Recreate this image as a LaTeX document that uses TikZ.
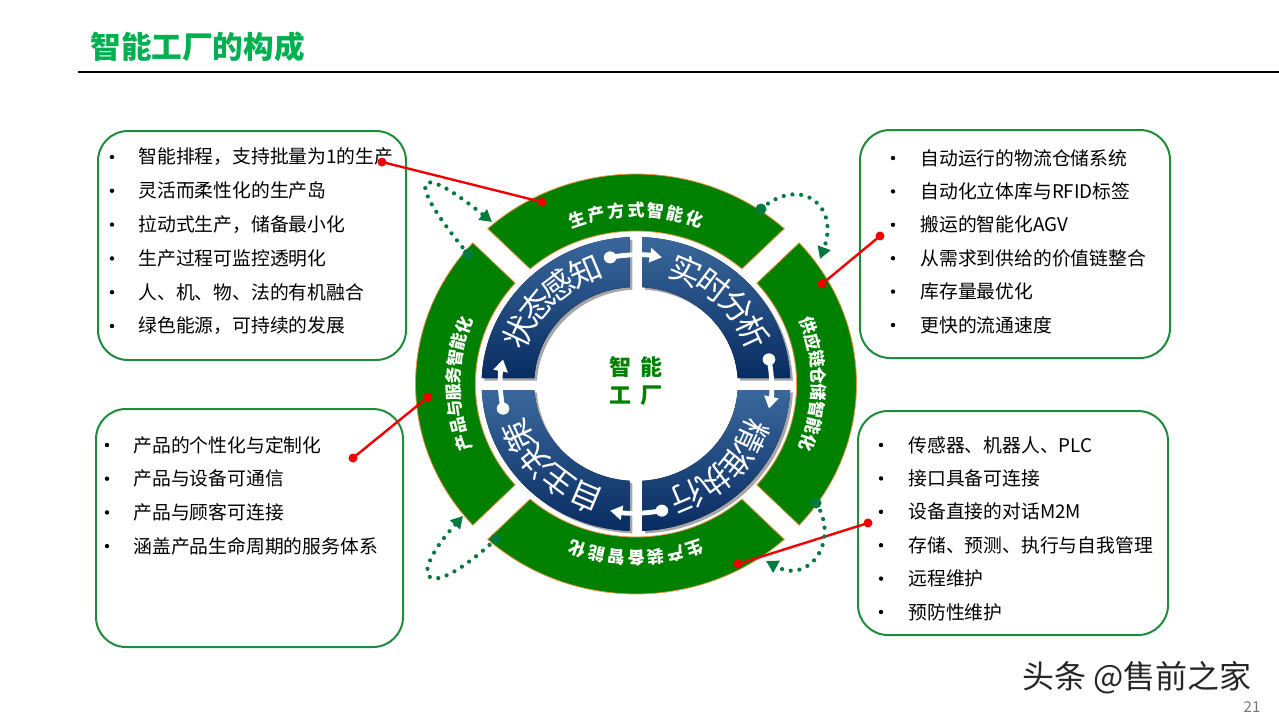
\documentclass[tikz,border=0pt]{standalone}
\usepackage{fontspec}
\setmainfont{Noto Sans CJK SC}
\usetikzlibrary{arrows.meta,positioning}
\definecolor{titlegreen}{RGB}{0,176,80}
\definecolor{ringgreen}{RGB}{0,128,0}
\definecolor{ringedge}{RGB}{236,150,70}
\definecolor{boxgreen}{RGB}{30,140,60}
\definecolor{dotgreen}{RGB}{0,122,61}
\definecolor{linkred}{RGB}{240,0,0}
\definecolor{quadlight}{RGB}{58,104,156}
\definecolor{quaddark}{RGB}{8,44,98}
\definecolor{pagegrey}{RGB}{120,120,120}

\tikzset{
  infobox/.style={draw=boxgreen, line width=1pt, rounded corners=15pt},
  itemtext/.style={anchor=west, font=\fontsize{9.4}{11}\selectfont, inner sep=0pt},
  ringtext/.style={text=white, font=\fontsize{8.5}{9}\selectfont\bfseries, inner sep=0pt},
  quadtext/.style={text=white, font=\fontsize{16}{17}\selectfont, inner sep=0pt},
  redlink/.style={linkred, line width=1.2pt},
  loopflow/.style={dotgreen, line width=2.1pt, line cap=round, dash pattern=on 0pt off 4.4pt,
    -{Triangle[length=6pt,width=6.5pt]}},
  turnflow/.style={white, line width=2.4pt, -{Triangle[length=6pt,width=7pt]}},
}

\begin{document}
\begin{tikzpicture}[x=0.5pt, y=0.5pt]
  \useasboundingbox (0,0) rectangle (1279,720);

  % ---------- title ----------
  \node[anchor=west, inner sep=0pt, text=titlegreen, font=\fontsize{15.3}{16}\selectfont\bfseries] (title) at (90,673) {智能工厂的构成};
  \draw[line width=0.75pt] (78,648) -- (1279,648);

  % ---------- text boxes ----------
  \node[infobox, minimum width=154pt, minimum height=114.5pt] (box1) at (252,474.5) {};
  \node[infobox, minimum width=155pt, minimum height=114pt] (box2) at (1015,476) {};
  \node[infobox, minimum width=153.5pt, minimum height=119pt] (box3) at (249.5,192) {};
  \node[infobox, minimum width=155pt, minimum height=112pt] (box4) at (1013,197) {};

  \foreach \t [count=\i] in {智能排程，支持批量为1的生产, 灵活而柔性化的生产岛, 拉动式生产，储备最小化,
      生产过程可监控透明化, 人、机、物、法的有机融合, 绿色能源，可持续的发展} {
    \fill (112,{563-33.8*(\i-1)}) circle (2.2);
    \node[itemtext] (a\i) at (138,{563-33.8*(\i-1)}) {\t};
  }
  \foreach \t [count=\i] in {自动运行的物流仓储系统, 自动化立体库与RFID标签, 搬运的智能化AGV,
      从需求到供给的价值链整合, 库存量最优化, 更快的流通速度} {
    \fill (893,{562-33.4*(\i-1)}) circle (2.2);
    \node[itemtext] (b\i) at (920,{562-33.4*(\i-1)}) {\t};
  }
  \foreach \t [count=\i] in {产品的个性化与定制化, 产品与设备可通信, 产品与顾客可连接,
      涵盖产品生命周期的服务体系} {
    \fill (107,{275-33.7*(\i-1)}) circle (2.2);
    \node[itemtext] (c\i) at (133,{275-33.7*(\i-1)}) {\t};
  }
  \foreach \t [count=\i] in {传感器、机器人、PLC, 接口具备可连接, 设备直接的对话M2M,
      存储、预测、执行与自我管理, 远程维护, 预防性维护} {
    \fill (881,{275-33.4*(\i-1)}) circle (2.2);
    \node[itemtext] (d\i) at (908,{275-33.4*(\i-1)}) {\t};
  }

  % ---------- ring ----------
  \begin{scope}[shift={(636,336)}, xscale=1.05]
    % green outer segments
    \foreach \a in {90,0,-90,180}
      \fill[ringgreen, draw=ringedge, line width=0.4pt]
        (\a-42.27:210) arc[start angle=\a-42.27, end angle=\a+42.27, radius=210]
        -- (\a+41.25:153) arc[start angle=\a+41.25, end angle=\a-41.25, radius=153] -- cycle;
    % blue quadrants
    \foreach \a in {135,45,-45,-135} {
      \fill[black!35, shift={(2.5,-2.5)}]
        (\a-42.66:147) arc[start angle=\a-42.66, end angle=\a+42.66, radius=147]
        -- (\a+41.45:97) arc[start angle=\a+41.45, end angle=\a-41.45, radius=97] -- cycle;
      \fill[top color=quadlight, bottom color=quaddark]
        (\a-42.66:147) arc[start angle=\a-42.66, end angle=\a+42.66, radius=147]
        -- (\a+41.45:97) arc[start angle=\a+41.45, end angle=\a-41.45, radius=97] -- cycle;
    }
    % segment labels, one character at a time round the ring
    \foreach \txt/\start/\step/\nm in {{生,产,方,式,智,能,化}/108.6/6.2/gt, {供,应,链,仓,储,智,能,化}/19.6/5.6/gr,
        {生,产,装,备,智,能,化}/-71.4/6.2/gb, {产,品,与,服,务,智,能,化}/199.6/5.6/gl}
      \foreach \c [count=\i] in \txt {
        \pgfmathsetmacro\ang{\start-\step*(\i-1)}
        \node[ringtext, rotate=\ang-90] (\nm\i) at (\ang:174) {\c};
      }
    \foreach \txt/\start/\nm in {{状,态,感,知}/155/qa, {实,时,分,析}/67/qb,
        {精,准,执,行}/-25/qc, {自,主,决,策}/-113/qd}
      \foreach \c [count=\i] in \txt {
        \pgfmathsetmacro\ang{\start-14*(\i-1)}
        \node[quadtext, rotate=\ang-90] (\nm\i) at (\ang:123) {\c};
      }
    % white turning arrows
    \foreach \a [count=\i] in {90,0,-90,180} {
      \coordinate (w\i s) at (\a+11:129);
      \draw[turnflow] (w\i s) arc[start angle=\a+11, end angle=\a-11, radius=129];
      \fill[white] (w\i s) circle (6);
    }
    \node[text=ringgreen, align=center, inner sep=0pt, font=\fontsize{11}{14}\selectfont\bfseries] (hub) at (0,3)
      {智\hspace{4.5pt}能\\工\hspace{4.5pt}厂};
  \end{scope}

  % ---------- red links ----------
  \coordinate (r1a) at (382,558); \coordinate (r1b) at (542,518);
  \coordinate (r2a) at (880,484); \coordinate (r2b) at (822,436);
  \coordinate (r3a) at (353,262); \coordinate (r3b) at (428,323);
  \coordinate (r4a) at (868,197); \coordinate (r4b) at (738,156);
  \foreach \p/\q in {r1a/r1b, r2a/r2b, r3a/r3b, r4a/r4b} {
    \draw[redlink] (\p) -- (\q);
    \fill[linkred] (\p) circle (4.5) (\q) circle (4.5);
  }

  % ---------- dotted loops ----------
  \coordinate (g1s) at (468,466); \coordinate (g1e) at (492,498);
  \coordinate (g2s) at (761,511); \coordinate (g2e) at (820,461);
  \coordinate (g3s) at (816,217); \coordinate (g3e) at (766,159);
  \coordinate (g4s) at (496,181); \coordinate (g4e) at (463,204);
  \draw[loopflow] (g1s) .. controls (404,543) and (414,561) .. (g1e);
  \draw[loopflow] (g2s) .. controls (800,545) and (840,515) .. (g2e);
  \draw[loopflow] (g3s) .. controls (840,180) and (810,135) .. (g3e);
  \draw[loopflow] (g4s) .. controls (425,115) and (405,140) .. (g4e);
  \foreach \s in {g1s,g2s,g3s,g4s}
    \fill[dotgreen] (\s) circle (5.5);

  % ---------- footer ----------
  \node[anchor=west, inner sep=0pt, text=black!85, font=\fontsize{16}{17}\selectfont] (mark) at (1022,42) {头条 @售前之家};
  \node[inner sep=0pt, text=pagegrey, font=\fontsize{7.5}{8}\selectfont] (pgno) at (1252,13) {21};
\end{tikzpicture}
\end{document}
